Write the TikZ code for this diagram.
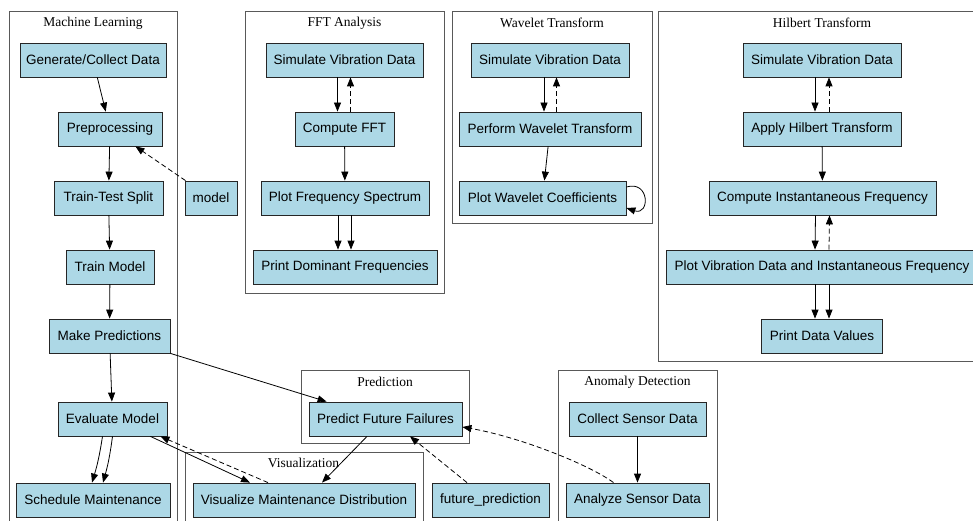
\documentclass[tikz,border=0pt]{standalone}
\usepackage{fontspec}
\setmainfont{Liberation Serif}
\setsansfont{Liberation Sans}
\usetikzlibrary{arrows.meta}
\definecolor{nodefill}{HTML}{ADD8E6}
\tikzset{
  box/.style={draw=black!85, fill=nodefill, line width=0.8pt, minimum height=34pt, inner sep=0pt, font=\sffamily\fontsize{13.5}{16}\selectfont},
  cluster/.style={draw=black!65, line width=0.8pt},
  ctitle/.style={font=\rmfamily\fontsize{13.5}{16}\selectfont, inner sep=0pt},
  arr/.style={-{Triangle[length=9pt,width=7pt]}, line width=0.8pt},
  darr/.style={arr, dash pattern=on 5pt off 3pt},
}
\begin{document}
\begin{tikzpicture}[x=1pt,y=-1pt]
\useasboundingbox (0,0) rectangle (973,521);
\fill[white] (0,0) rectangle (973,521);
% clusters
\draw[cluster] (9,11) rectangle (177,540);
\node[ctitle] (tml) at (93,23) {Machine Learning};
\draw[cluster] (245,11) rectangle (444,293);
\node[ctitle] (tfft) at (344.5,23) {FFT Analysis};
\draw[cluster] (452,11) rectangle (652,223);
\node[ctitle] (twav) at (552,23) {Wavelet Transform};
\draw[cluster] (658,11) rectangle (990,361);
\node[ctitle] (thil) at (822,23) {Hilbert Transform};
\draw[cluster] (301,370) rectangle (469,443);
\node[ctitle] (tpred) at (385,382) {Prediction};
\draw[cluster] (558,370) rectangle (717,540);
\node[ctitle] (tano) at (637.5,382) {Anomaly Detection};
\draw[cluster] (185,452) rectangle (423,540);
\node[ctitle] (tvis) at (303.5,463) {Visualization};
% ML nodes
\node[box, minimum width=146pt] (gen) at (93,60) {Generate/Collect Data};
\node[box, minimum width=104pt] (pre) at (110,129) {Preprocessing};
\node[box, minimum width=109pt] (tts) at (108.5,198) {Train-Test Split};
\node[box, minimum width=88pt] (tm) at (110,267) {Train Model};
\node[box, minimum width=121pt] (mp) at (109.5,336) {Make Predictions};
\node[box, minimum width=109pt] (em) at (112.5,419) {Evaluate Model};
\node[box, minimum width=154pt] (sm) at (93,500) {Schedule Maintenance};
\node[box, minimum width=52pt] (model) at (211,198) {model};
% FFT
\node[box, minimum width=157pt] (f1) at (344.5,60) {Simulate Vibration Data};
\node[box, minimum width=99pt] (f2) at (344.5,129) {Compute FFT};
\node[box, minimum width=168pt] (f3) at (345,198) {Plot Frequency Spectrum};
\node[box, minimum width=184pt] (f4) at (345,267) {Print Dominant Frequencies};
% Wavelet
\node[box, minimum width=158pt] (w1) at (550,60) {Simulate Vibration Data};
\node[box, minimum width=182pt] (w2) at (550,129) {Perform Wavelet Transform};
\node[box, minimum width=167pt] (w3) at (542.5,198) {Plot Wavelet Coefficients};
% Hilbert
\node[box, minimum width=158pt] (h1) at (822,60) {Simulate Vibration Data};
\node[box, minimum width=158pt] (h2) at (822,129) {Apply Hilbert Transform};
\node[box, minimum width=227pt] (h3) at (822.5,198) {Compute Instantaneous Frequency};
\node[box, minimum width=312pt] (h4) at (822,267) {Plot Vibration Data and Instantaneous Frequency};
\node[box, minimum width=121pt] (h5) at (822,336) {Print Data Values};
% Prediction / Anomaly / Visualization
\node[box, minimum width=153pt] (pf) at (385.5,419) {Predict Future Failures};
\node[box, minimum width=137pt] (cs) at (637.5,419) {Collect Sensor Data};
\node[box, minimum width=143pt] (an) at (637.5,500) {Analyze Sensor Data};
\node[box, minimum width=222pt] (vm) at (304,500) {Visualize Maintenance Distribution};
\node[box, minimum width=117pt] (fp) at (490.5,500) {future\_prediction};
% ML edges
\draw[arr] (gen) -- (pre);
\draw[darr] (model) -- (pre);
\draw[arr] (pre) -- (tts);
\draw[arr] (tts) -- (tm);
\draw[arr] (tm) -- (mp);
\draw[arr] (mp) -- (em);
\draw[arr] ([xshift=-10pt]em.south) to[bend left=4] ([xshift=-1pt]sm.north);
\draw[arr] ([xshift=0pt]em.south) to[bend left=4] ([xshift=10pt]sm.north);
\draw[arr] ([xshift=-17pt]em.south east) -- ([xshift=-54pt]vm.north);
\draw[darr] ([xshift=-36pt]vm.north) -- ([xshift=-7pt]em.south east);
\draw[arr] (mp.south east) -- ([xshift=18pt]pf.north west);
\draw[arr] ([xshift=-18.5pt]pf.south) -- ([xshift=18pt]vm.north);
\draw[darr] ([xshift=-23.5pt]fp.north) -- ([xshift=24.5pt]pf.south);
\draw[darr] ([xshift=-24pt]an.north) .. controls (590,465) and (520,437) .. ([yshift=-8pt]pf.east);
\draw[arr] (cs) -- (an);
% FFT edges
\draw[arr] ([xshift=-7pt]f1.south) -- ([xshift=-7pt]f2.north);
\draw[darr] ([xshift=6pt]f2.north) -- ([xshift=6pt]f1.south);
\draw[arr] (f2) -- (f3);
\draw[arr] ([xshift=-7pt]f3.south) -- ([xshift=-7pt]f4.north);
\draw[arr] ([xshift=6pt]f3.south) -- ([xshift=6pt]f4.north);
% Wavelet edges
\draw[arr] ([xshift=-6pt]w1.south) -- ([xshift=-6pt]w2.north);
\draw[darr] ([xshift=6.5pt]w2.north) -- ([xshift=6.5pt]w1.south);
\draw[arr] (w2) -- (w3);
\draw[arr] ([yshift=11pt]w3.east) .. controls (650,180) and (650,216) .. ([yshift=-10pt]w3.east);
% Hilbert edges
\draw[arr] ([xshift=-7pt]h1.south) -- ([xshift=-7pt]h2.north);
\draw[darr] ([xshift=7pt]h2.north) -- ([xshift=7pt]h1.south);
\draw[arr] (h2) -- (h3);
\draw[arr] ([xshift=-7pt]h3.south) -- ([xshift=-7pt]h4.north);
\draw[darr] ([xshift=7pt]h4.north) -- ([xshift=7pt]h3.south);
\draw[arr] ([xshift=-7pt]h4.south) -- ([xshift=-7pt]h5.north);
\draw[arr] ([xshift=7pt]h4.south) -- ([xshift=7pt]h5.north);
\end{tikzpicture}
\end{document}
